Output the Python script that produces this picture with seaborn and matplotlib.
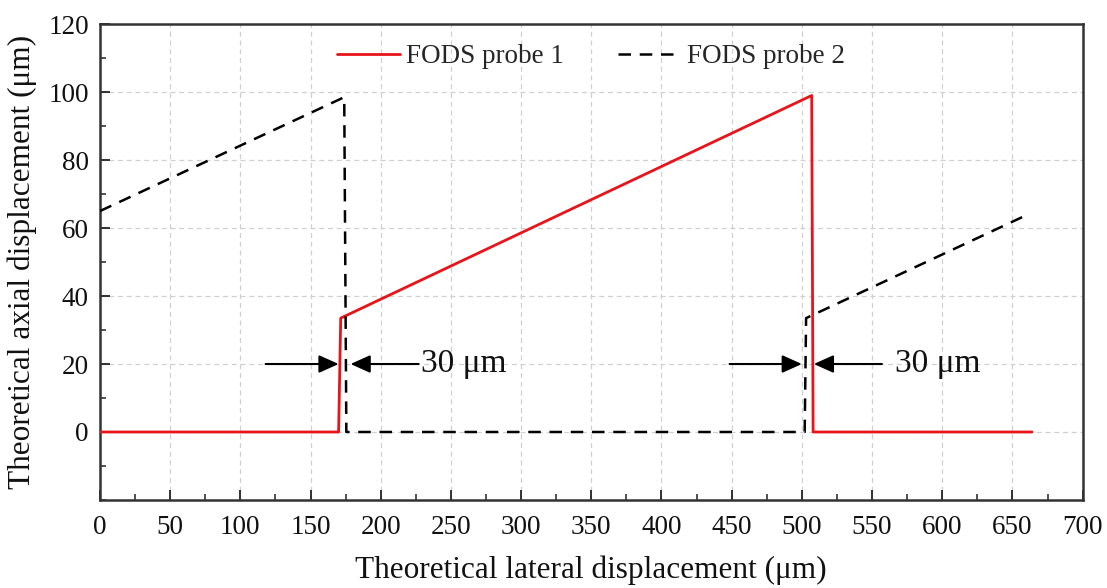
import matplotlib
matplotlib.use("Agg")
import matplotlib.pyplot as plt
import seaborn as sns
import pandas as pd
from matplotlib.ticker import MultipleLocator

# Data
probe1_x = [0, 170, 171.5, 507, 508, 664]
probe1_y = [0, 0, 33.5, 99, 0, 0]
probe2_x = [0, 174, 175.5, 502, 503, 661]
probe2_y = [65, 98.5, 0, 0, 33.5, 64]
series_names = ["FODS probe 1", "FODS probe 2"]
gap_label = "30 \u03bcm"

sns.set_theme(style="white")
plt.rcParams['font.family'] = ['Liberation Serif', 'DejaVu Serif']
plt.rcParams['mathtext.fontset'] = 'stix'

fig = plt.figure(figsize=(11.07, 5.88), dpi=100)
ax = fig.add_axes([0.0903, 0.1497, 0.8877, 0.8093])

df1 = pd.DataFrame({"x": probe1_x, "y": probe1_y})
df2 = pd.DataFrame({"x": probe2_x, "y": probe2_y})

sns.lineplot(data=df1, x="x", y="y", sort=False, estimator=None, ax=ax,
             color="#e8141a", linewidth=2.0, label=series_names[0], zorder=3)
sns.lineplot(data=df2, x="x", y="y", sort=False, estimator=None, ax=ax,
             color="black", linewidth=1.8, label=series_names[1], zorder=4)
ax.lines[1].set_dashes((5, 3.5))

ax.set_xlim(0, 700)
ax.set_ylim(-20, 120)
ax.xaxis.set_major_locator(MultipleLocator(50))
ax.xaxis.set_minor_locator(MultipleLocator(25))
ax.set_yticks([0, 20, 40, 60, 80, 100, 120])
ax.yaxis.set_minor_locator(MultipleLocator(10))

ax.grid(True, which="major", color="#d0d0d0", linestyle=(0, (4, 3)), linewidth=0.9)
ax.set_axisbelow(True)

ax.tick_params(axis="x", which="major", pad=11)
ax.tick_params(axis="y", which="major", pad=8)
ax.tick_params(axis="both", which="major", direction="in", length=7, width=1.3,
               color="#222222", labelsize=19.5, bottom=True, left=True, top=False, right=False)
ax.tick_params(axis="both", which="minor", direction="in", length=4, width=1.1,
               color="#222222", bottom=True, left=True, top=False, right=False)
for lab in ax.get_xticklabels() + ax.get_yticklabels():
    lab.set_color("#111111")

for sp in ax.spines.values():
    sp.set_color("#333333")
    sp.set_linewidth(1.8)
    sp.set_visible(True)

ax.set_xlabel("Theoretical lateral displacement (\u03bcm)", fontsize=22.5, labelpad=11, color="#111111")
ax.set_ylabel("Theoretical axial displacement (\u03bcm)", fontsize=22.5, labelpad=8, color="#111111")

leg = ax.legend(loc="upper center", bbox_to_anchor=(0.5, 1.0), ncol=2, frameon=False,
                fontsize=19.5, handlelength=2.3, columnspacing=2.0, handletextpad=0.25,
                borderaxespad=0.35)

arrow_kw = dict(arrowstyle="-|>,head_length=1.0,head_width=0.45", color="black", lw=1.5,
                shrinkA=0, shrinkB=0)
ax.annotate("", xy=(170, 20), xytext=(118, 20), arrowprops=arrow_kw)
ax.annotate("", xy=(178.5, 20), xytext=(227, 20), arrowprops=arrow_kw)
ax.text(229, 20, gap_label, fontsize=24, va="center", ha="left", color="#111111")

ax.annotate("", xy=(500, 20), xytext=(448.5, 20), arrowprops=arrow_kw)
ax.annotate("", xy=(508.5, 20), xytext=(557, 20), arrowprops=arrow_kw)
ax.text(566, 20, gap_label, fontsize=24, va="center", ha="left", color="#111111")

fig.savefig("out.png", dpi=100)
